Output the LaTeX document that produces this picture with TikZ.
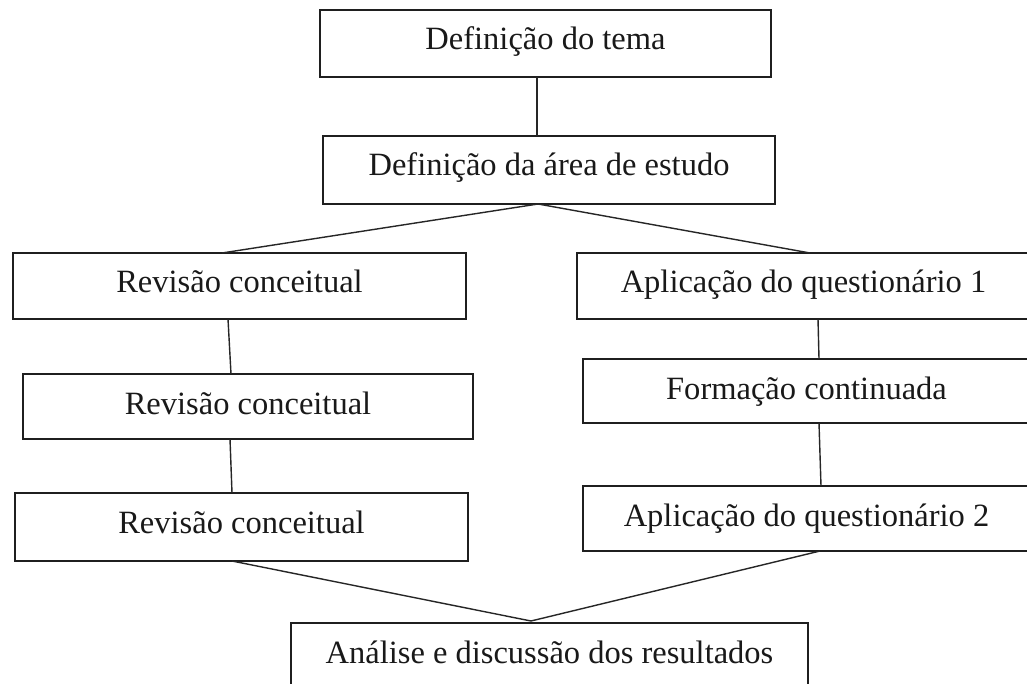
\documentclass[tikz,border=0pt]{standalone}
\usepackage{fontspec}
\setmainfont{Liberation Serif}
\begin{document}
\begin{tikzpicture}[x=1pt,y=-1pt,
  box/.style={draw=black!88, line width=1.8pt, rectangle, inner sep=0pt, outer sep=0pt,
    anchor=north west, font=\fontsize{32.5}{39}\selectfont, text=black!90, text height=40pt},
  link/.style={draw=black!85, line width=1.4pt}]
\useasboundingbox (0,0) rectangle (1027,684);
\clip (0,0) rectangle (1027,684);
\fill[white] (0,0) rectangle (1027,684);
\node[box, minimum width=451pt, minimum height=67pt, text depth=27pt] (b1) at (320,10) {Definição do tema};
\node[box, minimum width=452pt, minimum height=68pt, text depth=28pt] (b2) at (323,136) {Definição da área de estudo};
\node[box, minimum width=453pt, minimum height=66pt, text depth=26pt] (b3) at (13,253) {Revisão conceitual};
\node[box, minimum width=453pt, minimum height=66pt, text depth=26pt] (b4) at (577,253) {Aplicação do questionário 1};
\node[box, minimum width=450pt, minimum height=65pt, text depth=25pt] (b5) at (23,374) {Revisão conceitual};
\node[box, minimum width=447pt, minimum height=64pt, text depth=24pt] (b6) at (583,359) {Formação continuada};
\node[box, minimum width=453pt, minimum height=68pt, text depth=28pt] (b7) at (15,493) {Revisão conceitual};
\node[box, minimum width=447pt, minimum height=65pt, text depth=25pt] (b8) at (583,486) {Aplicação do questionário 2};
\node[box, minimum width=517pt, minimum height=80pt, text depth=40pt] (b9) at (291,623) {Análise e discussão dos resultados};
\coordinate (top2) at ([xshift=-11pt]b2.south);
\coordinate (top9) at ([xshift=-18.5pt,yshift=2pt]b9.north);
\draw[link] ([xshift=-8.5pt]b1.south) -- ([xshift=-12pt]b2.north);
\draw[link] ([xshift=-17.5pt]b3.north) -- (top2) -- ([xshift=6.5pt]b4.north);
\draw[link] ([xshift=-11.5pt]b3.south) -- ([xshift=-17pt]b5.north);
\draw[link] ([xshift=-18pt]b5.south) -- ([xshift=-9.5pt]b7.north);
\draw[link] ([xshift=14.5pt]b4.south) -- ([xshift=12.5pt]b6.north);
\draw[link] ([xshift=12.5pt]b6.south) -- ([xshift=14.5pt]b8.north);
\draw[link] ([xshift=-9.5pt]b7.south) -- (top9) -- ([xshift=13.5pt]b8.south);
\end{tikzpicture}
\end{document}
